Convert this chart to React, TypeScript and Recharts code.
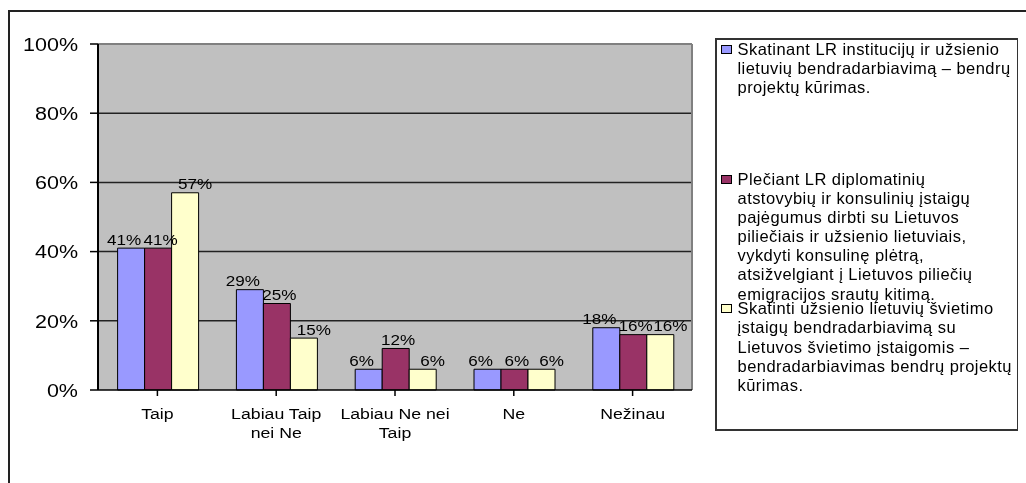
import React from "react";
import {
  BarChart,
  Bar,
  XAxis,
  YAxis,
  CartesianGrid,
  Legend,
  LabelList,
} from "recharts";

// Answer categories along the x axis
const categories = ["Taip", "Labiau Taip nei Ne", "Labiau Ne nei Taip", "Ne", "Nežinau"];
// Category labels as they wrap under the axis
const categoryLines = [
  ["Taip"],
  ["Labiau Taip", "nei Ne"],
  ["Labiau Ne nei", "Taip"],
  ["Ne"],
  ["Nežinau"],
];

// Share of answers (%) per measure
const institutionsValues = [41, 29, 6, 6, 18];
const diplomaticValues = [41, 25, 12, 6, 16];
const educationValues = [57, 15, 6, 6, 16];

// Series names, split into the lines shown in the legend
const institutionsName = [
  "Skatinant LR institucijų ir užsienio",
  "lietuvių bendradarbiavimą – bendrų",
  "projektų kūrimas.",
];
const diplomaticName = [
  "Plečiant LR diplomatinių",
  "atstovybių ir konsulinių įstaigų",
  "pajėgumus dirbti su Lietuvos",
  "piliečiais ir užsienio lietuviais,",
  "vykdyti konsulinę plėtrą,",
  "atsižvelgiant į Lietuvos piliečių",
  "emigracijos srautų kitimą.",
];
const educationName = [
  "Skatinti užsienio lietuvių švietimo",
  "įstaigų bendradarbiavimą su",
  "Lietuvos švietimo įstaigomis –",
  "bendradarbiavimas bendrų projektų",
  "kūrimas.",
];

const yTicks = [0, 20, 40, 60, 80, 100];

const seriesKeys = ["institutions", "diplomatic", "education"];
const legendLinesByKey: Record<string, string[]> = {
  institutions: institutionsName,
  diplomatic: diplomaticName,
  education: educationName,
};

const data = categories.map((c, i) => ({
  category: c,
  institutions: institutionsValues[i],
  diplomatic: diplomaticValues[i],
  education: educationValues[i],
}));

const FONT = "'Liberation Sans', Arial, sans-serif";
// The chart's lettering is a horizontally widened Arial
const WIDEN = 1.15;

const YTick = (props: any) => {
  const { x, y, payload } = props;
  return (
    <text
      transform={`translate(${x},${y + 6.7}) scale(${WIDEN},1)`}
      textAnchor="end"
      fontSize={18.7}
      fontFamily={FONT}
      fill="#000"
    >
      {`${payload.value}%`}
    </text>
  );
};

const XTick = (props: any) => {
  const { x, y, index } = props;
  const lines = categoryLines[index] || [props.payload.value];
  return (
    <text
      transform={`translate(${x},${y + 11}) scale(${WIDEN},1)`}
      textAnchor="middle"
      fontSize={15.4}
      fontFamily={FONT}
      fill="#000"
    >
      {lines.map((l: string, i: number) => (
        <tspan key={i} x={0} dy={i === 0 ? 0 : 19.5}>
          {l}
        </tspan>
      ))}
    </text>
  );
};

const makeValueLabel = (dx: number) => (props: any) => {
  const { x, y, width, value } = props;
  const cx = Number(x) + Number(width) / 2 + dx;
  return (
    <text
      transform={`translate(${cx},${Number(y) - 3.6}) scale(1.14,1)`}
      textAnchor="middle"
      fontSize={15}
      fontFamily={FONT}
      fill="#000"
    >
      {`${value}%`}
    </text>
  );
};

const LegendBox = (props: any) => {
  const payload: any[] = [...(props.payload || [])].sort(
    (a, b) => seriesKeys.indexOf(a.dataKey) - seriesKeys.indexOf(b.dataKey)
  );
  return (
    <div
      style={{
        position: "relative",
        width: 304,
        height: 393,
        boxSizing: "border-box",
        border: "2px solid #333",
        background: "#fff",
        fontFamily: FONT,
        fontSize: 16.5,
        letterSpacing: 0.45,
        lineHeight: "19.15px",
        color: "#000",
      }}
    >
      {payload.map((entry: any, i: number) => (
        <div
          key={entry.dataKey}
          style={{ position: "absolute", left: 0, top: i * 129.6, width: 290 }}
        >
          <div
            style={{
              position: "absolute",
              left: 4,
              top: 5,
              width: 11,
              height: 9,
              boxSizing: "border-box",
              border: "1px solid #000",
              background: entry.color,
            }}
          />
          <div style={{ position: "absolute", left: 20.5, top: 0, whiteSpace: "nowrap" }}>
            {(legendLinesByKey[entry.dataKey] || [entry.value]).map((l: string, k: number) => (
              <div key={k}>{l}</div>
            ))}
          </div>
        </div>
      ))}
    </div>
  );
};

export default function App() {
  return (
    <div style={{ position: "relative", width: 1010, height: 467 }}>
      <div
        style={{
          position: "fixed",
          left: 8,
          top: 10,
          right: 0,
          bottom: 0,
          borderTop: "2px solid #222",
          borderLeft: "2px solid #222",
          pointerEvents: "none",
        }}
      />
      <BarChart
        width={1010}
        height={467}
        data={data}
        margin={{ top: 36, right: 326, left: 0, bottom: 0 }}
        barCategoryGap="16.5%"
        barGap={0}
      >
        <CartesianGrid
          fill="#C0C0C0"
          stroke="#222"
          strokeWidth={1.5}
          vertical={false}
          horizontalValues={[20, 40, 60, 80]}
        />
        <CartesianGrid
          stroke="#808080"
          strokeWidth={2}
          horizontalCoordinatesGenerator={(p: any) => [p.offset.top]}
          verticalCoordinatesGenerator={(p: any) => [p.offset.left + p.offset.width]}
        />
        <XAxis
          dataKey="category"
          height={85}
          interval={0}
          tickSize={6}
          tickMargin={12}
          axisLine={{ stroke: "#000", strokeWidth: 1.5 }}
          tickLine={{ stroke: "#000", strokeWidth: 1.5 }}
          tick={<XTick />}
        />
        <YAxis
          width={90}
          domain={[0, 100]}
          ticks={yTicks}
          interval={0}
          tickSize={8}
          tickMargin={12}
          axisLine={{ stroke: "#000", strokeWidth: 2 }}
          tickLine={{ stroke: "#000", strokeWidth: 1.5 }}
          tick={<YTick />}
        />
        <Legend
          layout="vertical"
          align="center"
          verticalAlign="middle"
          content={<LegendBox />}
          wrapperStyle={{ left: 707, top: 30, width: 304, height: 393 }}
        />
        <Bar
          dataKey="institutions"
          name={institutionsName.join(" ")}
          fill="#9999FF"
          stroke="#000"
          strokeWidth={1}
          isAnimationActive={false}
        >
          <LabelList dataKey="institutions" content={makeValueLabel(-7)} />
        </Bar>
        <Bar
          dataKey="diplomatic"
          name={diplomaticName.join(" ")}
          fill="#993366"
          stroke="#000"
          strokeWidth={1}
          isAnimationActive={false}
        >
          <LabelList dataKey="diplomatic" content={makeValueLabel(2.4)} />
        </Bar>
        <Bar
          dataKey="education"
          name={educationName.join(" ")}
          fill="#FFFFCC"
          stroke="#000"
          strokeWidth={1}
          isAnimationActive={false}
        >
          <LabelList dataKey="education" content={makeValueLabel(10)} />
        </Bar>
      </BarChart>
    </div>
  );
}
